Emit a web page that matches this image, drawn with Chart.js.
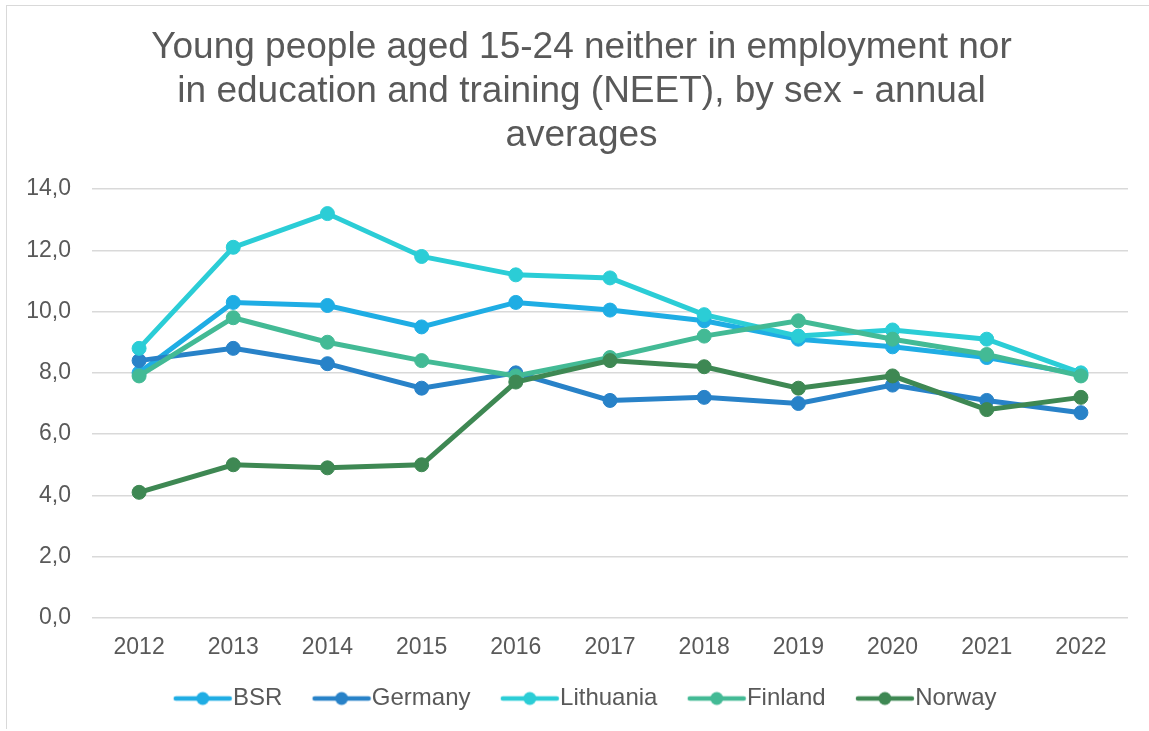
<!DOCTYPE html>
<html>
<head>
<meta charset="utf-8">
<script src="https://cdn.jsdelivr.net/npm/chart.js@4/dist/chart.umd.min.js"></script>
<style>
  html, body { margin: 0; padding: 0; background: #fff; overflow: hidden; }
  #wrap { position: relative; width: 1149px; height: 731px; }
  #frame { position: absolute; left: 6px; top: 5px; width: 1160px; height: 723px;
           border-left: 1px solid #d9d9d9; border-top: 1px solid #d9d9d9; pointer-events: none; }
</style>
</head>
<body>
<div id="wrap">
  <canvas id="myChart" width="1149" height="731"></canvas>
  <div id="frame"></div>
</div>
<script>
const years = ["2012", "2013", "2014", "2015", "2016", "2017", "2018", "2019", "2020", "2021", "2022"];

const bsr = [8.0, 10.3, 10.2, 9.5, 10.3, 10.05, 9.7, 9.1, 8.85, 8.5, 7.95];
const germany = [8.4, 8.8, 8.3, 7.5, 8.0, 7.1, 7.2, 7.0, 7.6, 7.1, 6.7];
const lithuania = [8.8, 12.1, 13.2, 11.8, 11.2, 11.1, 9.9, 9.2, 9.4, 9.1, 8.0];
const finland = [7.9, 9.8, 9.0, 8.4, 7.9, 8.5, 9.2, 9.7, 9.1, 8.6, 7.9];
const norway = [4.1, 5.0, 4.9, 5.0, 7.7, 8.4, 8.2, 7.5, 7.9, 6.8, 7.2];

const titleLines = [
  "Young people aged 15-24 neither in employment nor",
  "in education and training (NEET), by sex - annual",
  "averages",
];

const textColor = "#595959";
const fontFamily = "'Liberation Sans', Arial, sans-serif";

// legend marker: line with a dot, drawn at the right side of a wider image
function legendMarker(color) {
  const c = document.createElement("canvas");
  c.width = 91;
  c.height = 16;
  const ctx = c.getContext("2d");
  ctx.strokeStyle = color;
  ctx.lineWidth = 4.5;
  ctx.lineCap = "round";
  ctx.beginPath();
  ctx.moveTo(91 - 57, 8);
  ctx.lineTo(91 - 3, 8);
  ctx.stroke();
  ctx.fillStyle = color;
  ctx.beginPath();
  ctx.arc(91 - 30, 8, 6.5, 0, Math.PI * 2);
  ctx.fill();
  return c;
}

function series(label, values, color, order) {
  return {
    label,
    data: values,
    borderColor: color,
    backgroundColor: color,
    pointBackgroundColor: color,
    pointBorderColor: color,
    borderWidth: 5,
    pointRadius: 7,
    pointBorderWidth: 1,
    pointHoverRadius: 7,
    tension: 0,
    order,
  };
}

// title and legend are centred on the whole frame, not only on the plot side
const shiftBlocks = {
  id: "shiftBlocks",
  afterLayout(chart) {
    if (chart.titleBlock) chart.titleBlock.left += 35;
    if (chart.legend) chart.legend.left += 22;
  },
};

const data = {
  labels: years,
  datasets: [
    series("BSR", bsr, "#1fade4", 5),
    series("Germany", germany, "#2882c8", 4),
    series("Lithuania", lithuania, "#2bcdd6", 3),
    series("Finland", finland, "#43ba95", 2),
    series("Norway", norway, "#3e8853", 1),
  ],
};

const config = {
  type: "line",
  data,
  plugins: [shiftBlocks],
  options: {
    responsive: false,
    animation: false,
    layout: { padding: { left: 0, right: 21, top: 0, bottom: 10.5 } },
    plugins: {
      title: {
        display: true,
        text: titleLines,
        color: textColor,
        font: { family: fontFamily, size: 37, weight: "normal", lineHeight: 1.19 },
        padding: { top: 26, bottom: 31 },
      },
      legend: {
        position: "bottom",
        labels: {
          color: textColor,
          font: { family: fontFamily, size: 24 },
          usePointStyle: true,
          pointStyleWidth: 67.5,
          padding: 10,
          sort: (a, b) => a.datasetIndex - b.datasetIndex,
          generateLabels: (chart) => {
            const items = Chart.defaults.plugins.legend.labels.generateLabels(chart);
            items.forEach((it) => {
              it.pointStyle = legendMarker(chart.data.datasets[it.datasetIndex].borderColor);
            });
            return items;
          },
        },
      },
      tooltip: { enabled: false },
    },
    scales: {
      x: {
        offset: true,
        grid: { display: false, drawTicks: false },
        border: { display: false },
        ticks: {
          color: textColor,
          font: { family: fontFamily, size: 23 },
          padding: 15.5,
          maxRotation: 0,
        },
      },
      y: {
        min: 0,
        max: 14,
        grid: { color: "#d9d9d9", lineWidth: 1.5, drawTicks: false },
        border: { display: false },
        ticks: {
          stepSize: 2,
          color: textColor,
          font: { family: fontFamily, size: 23 },
          padding: 21,
          callback: (v) => v.toFixed(1).replace(".", ","),
        },
        afterFit: (scale) => { scale.width = 92; },
      },
    },
  },
};

const myChart = new Chart(document.getElementById("myChart"), config);
</script>
</body>
</html>
